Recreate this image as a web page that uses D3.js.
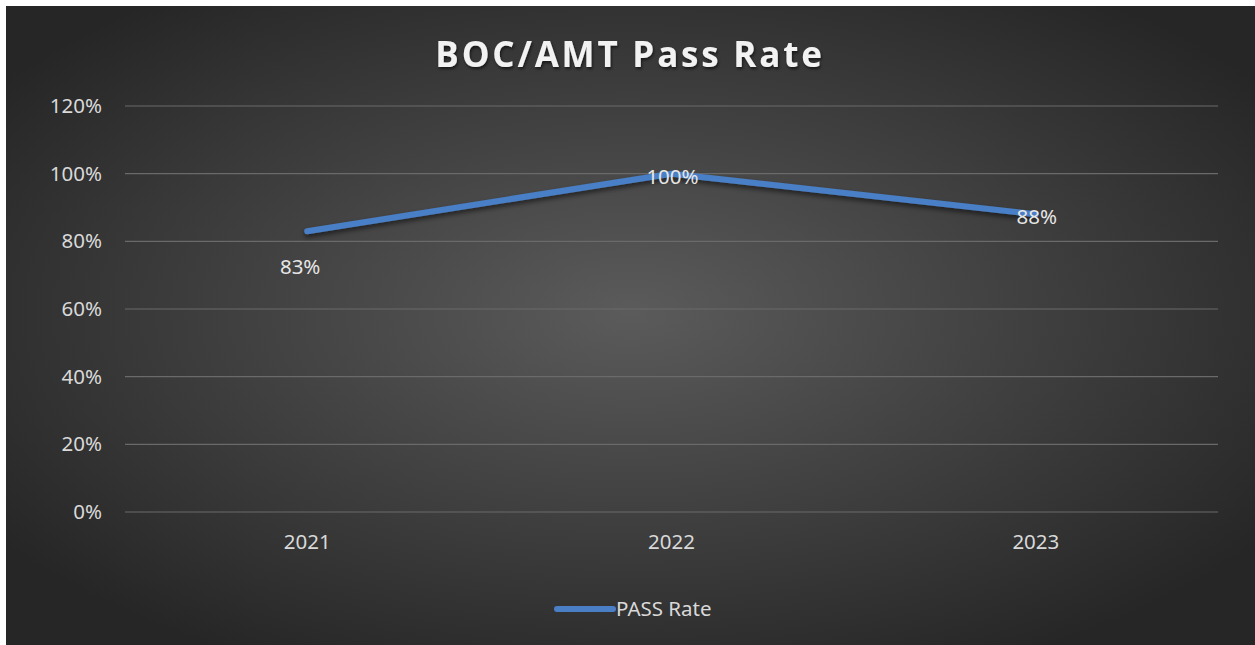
<!DOCTYPE html>
<html>
<head>
<meta charset="utf-8">
<script src="https://cdn.jsdelivr.net/npm/d3@7"></script>
<style>
  body { margin: 0; background: #fff; }
  svg { display: block; }
</style>
</head>
<body>
<svg id="chart" width="1255" height="645"></svg>
<script>
const years = ["2021", "2022", "2023"];
const passRate = [0.83, 1.00, 0.88];
const yTicks = [0, 0.2, 0.4, 0.6, 0.8, 1.0, 1.2];
// where each data label sits relative to its point: below, centre, right-ish
const labelPlacement = ["below", "center", "center"];

const svg = d3.select("#chart");
const W = 1255, H = 645;
const margin = { left: 125, right: 37, top: 106, bottom: 133 };
const font = "'Noto Sans', sans-serif";

const defs = svg.append("defs");
const grad = defs.append("radialGradient")
  .attr("id", "bg")
  .attr("cx", "50%").attr("cy", "48%").attr("r", "62%");
grad.append("stop").attr("offset", "0%").attr("stop-color", "#5b5b5b");
grad.append("stop").attr("offset", "100%").attr("stop-color", "#262626");

const shadow = defs.append("filter").attr("id", "shadow")
  .attr("x", "-10%").attr("y", "-50%").attr("width", "120%").attr("height", "200%");
shadow.append("feDropShadow")
  .attr("dx", 0).attr("dy", 3).attr("stdDeviation", 2.5)
  .attr("flood-color", "#000").attr("flood-opacity", 0.55);

const tshadow = defs.append("filter").attr("id", "tshadow");
tshadow.append("feDropShadow")
  .attr("dx", 1).attr("dy", 2).attr("stdDeviation", 1.5)
  .attr("flood-color", "#000").attr("flood-opacity", 0.6);

svg.append("rect")
  .attr("x", 6).attr("y", 6)
  .attr("width", W - 6).attr("height", H - 6)
  .attr("fill", "url(#bg)");

const x = d3.scaleBand()
  .domain(years)
  .range([margin.left, W - margin.right]);

const y = d3.scaleLinear()
  .domain([0, 1.2])
  .range([H - margin.bottom, margin.top]);

// gridlines
svg.append("g")
  .selectAll("line")
  .data(yTicks)
  .join("line")
  .attr("x1", margin.left)
  .attr("x2", W - margin.right)
  .attr("y1", d => y(d))
  .attr("y2", d => y(d))
  .attr("stroke", "#6a6a6a")
  .attr("stroke-width", 1.2);

const yAxis = svg.append("g")
  .attr("transform", `translate(${margin.left - 23},0)`)
  .call(d3.axisLeft(y).tickValues(yTicks).tickFormat(d3.format(".0%")).tickSize(0).tickPadding(0));
yAxis.select(".domain").remove();
yAxis.selectAll("text")
  .attr("fill", "#d9d9d9")
  .style("font-family", font)
  .style("font-size", "20.5px");

const xAxis = svg.append("g")
  .attr("transform", `translate(0,${H - margin.bottom})`)
  .call(d3.axisBottom(x).tickSize(0).tickPadding(22));
xAxis.select(".domain").remove();
xAxis.selectAll("text")
  .attr("fill", "#d9d9d9")
  .style("font-family", font)
  .style("font-size", "20.5px");

const cx = d => x(d) + x.bandwidth() / 2;

const line = d3.line()
  .x((d, i) => cx(years[i]))
  .y(d => y(d));

svg.append("path")
  .datum(passRate)
  .attr("d", line)
  .attr("fill", "none")
  .attr("stroke", "#4a7fc6")
  .attr("stroke-width", 6)
  .attr("stroke-linecap", "round")
  .attr("stroke-linejoin", "round")
  .attr("filter", "url(#shadow)");

svg.append("g")
  .selectAll("text")
  .data(passRate)
  .join("text")
  .attr("x", (d, i) => cx(years[i]) + (labelPlacement[i] === "below" ? -7 : 1))
  .attr("y", (d, i) => y(d) + (labelPlacement[i] === "below" ? 36 : 3))
  .attr("dy", "0.35em")
  .attr("text-anchor", "middle")
  .attr("fill", "#e6e6e6")
  .style("font-family", font)
  .style("font-size", "20.5px")
  .text(d => d3.format(".0%")(d));

svg.append("text")
  .attr("x", 630)
  .attr("y", 67)
  .attr("text-anchor", "middle")
  .attr("fill", "#f2f2f2")
  .attr("filter", "url(#tshadow)")
  .style("font-family", "'Open Sans', sans-serif")
  .style("font-weight", "700")
  .style("font-size", "35px")
  .style("letter-spacing", "2.8px")
  .text("BOC/AMT Pass Rate");

// legend
const legend = svg.append("g").attr("transform", "translate(557,609)");
legend.append("line")
  .attr("x1", 0).attr("x2", 56)
  .attr("stroke", "#4a7fc6")
  .attr("stroke-width", 6)
  .attr("stroke-linecap", "round");
legend.append("text")
  .attr("x", 59)
  .attr("dy", "0.35em")
  .attr("fill", "#d9d9d9")
  .style("font-family", font)
  .style("font-size", "20.5px")
  .text("PASS Rate");
</script>
</body>
</html>
